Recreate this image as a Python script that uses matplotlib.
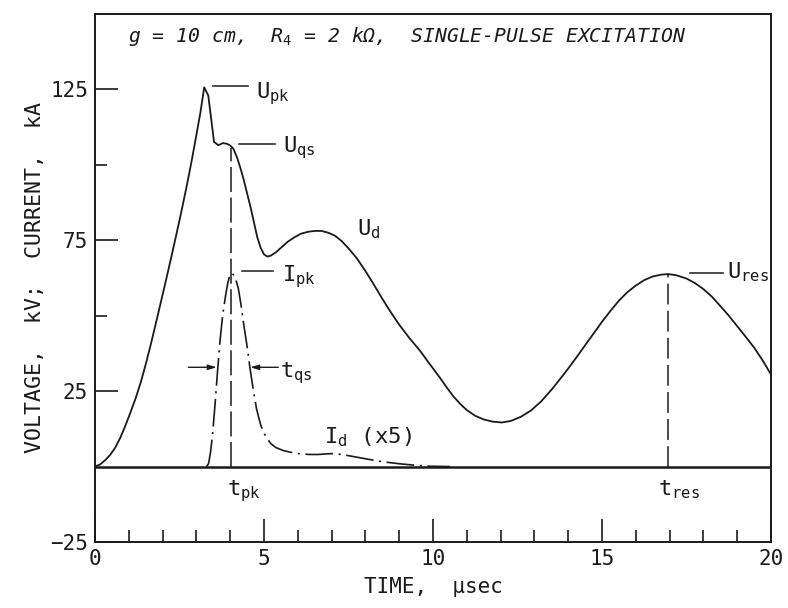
import matplotlib
matplotlib.use("Agg")
import matplotlib.pyplot as plt
from matplotlib.ticker import FixedLocator

plt.rcParams['font.family'] = ['DejaVu Sans Mono', 'DejaVu Sans']
plt.rcParams['mathtext.fontset'] = 'custom'
plt.rcParams['mathtext.rm'] = 'DejaVu Sans Mono'
plt.rcParams['mathtext.it'] = 'DejaVu Sans Mono:italic'
plt.rcParams['lines.scale_dashes'] = False

# 读图得到的数据
# 电压 U_d (kV)
t_u = [0, 0.15, 0.3, 0.45, 0.6, 0.75, 0.9, 1.05, 1.2, 1.35, 1.5, 1.65, 1.8,
       1.95, 2.1, 2.25, 2.4, 2.55, 2.7, 2.85, 3.0, 3.12, 3.23,
       3.35, 3.45, 3.52, 3.65, 3.78, 3.9, 4.0, 4.09, 4.2, 4.3, 4.4, 4.5, 4.6,
       4.7, 4.8, 4.9, 5.0, 5.1, 5.2, 5.35, 5.5, 5.7, 5.9, 6.1, 6.3, 6.5, 6.7,
       6.9, 7.1, 7.3, 7.5, 7.74, 8.0, 8.2, 8.5, 8.73, 9.0, 9.3, 9.62, 9.9,
       10.2, 10.4, 10.6, 10.8, 11.0, 11.25, 11.5, 11.75, 12.03, 12.3, 12.6,
       12.9, 13.2, 13.56, 13.8, 14.0, 14.25, 14.5, 14.75, 15.0, 15.25, 15.5,
       15.75, 16.0, 16.25, 16.5, 16.75, 16.96, 17.2, 17.5, 17.75, 18.0, 18.25,
       18.5, 18.75, 19.0, 19.25, 19.5, 19.75, 20.0]
u_d = [0, 0.7, 2.1, 3.9, 6.3, 9.6, 13.6, 18, 22.6, 27.8, 33.9, 40.5, 47.5,
       54.6, 61.8, 69.1, 76.6, 84.3, 92.3, 100.8, 110, 117.5, 125.7,
       123, 114, 107.6, 106.5, 107.2, 107, 106.4, 105.4, 102.5, 99, 95, 90.5, 86,
       81, 76, 72.5, 70.3, 69.6, 69.9, 71, 72.5, 74.5, 76, 77.2, 77.8, 78.1, 78.1,
       77.5, 76.5, 74.7, 72.3, 69.1, 64.8, 61.2, 55.6, 51.5, 47, 42.6, 38.3, 34,
       29.5, 26.3, 23.3, 20.8, 18.7, 16.8, 15.6, 14.9, 14.6, 15.1, 16.5,
       18.6, 21.6, 26.2, 29.6, 32.5, 36.3, 40.2, 44.1, 48, 51.6, 55,
       57.8, 60, 61.8, 63, 63.6, 63.8, 63.4, 62.3, 60.8, 58.8, 56.3,
       53.2, 50, 46.5, 43, 39.4, 35.2, 30.5]

# 电流 I_d (x5, kA)
t_i = [3.3, 3.36, 3.42, 3.48, 3.55, 3.62, 3.7, 3.78, 3.86, 3.93, 3.99, 4.04,
       4.1, 4.17, 4.24, 4.32, 4.4, 4.49, 4.58, 4.68, 4.78, 4.9, 5.0, 5.1, 5.2,
       5.35, 5.57, 5.8, 6.07, 6.35, 6.6, 6.85, 7.05, 7.3, 7.6, 8.04, 8.5, 9.02,
       9.5, 9.9, 10.5]
i_d = [0, 1, 5, 11, 20.5, 31, 42, 50.5, 56.5, 61, 63.5, 64.1,
       63.5, 61.8, 59, 53.5, 47, 40.5, 33, 25.5, 19, 13.8, 11, 9.2, 7.6,
       6.3, 5.3, 4.7, 4.2, 4.0, 4.0, 4.2, 4.3, 4.0, 3.4, 2.5, 1.6, 0.9,
       0.4, 0.1, 0]

t_pk, t_res = 4.03, 16.96
u_qs_top, u_res_top = 105.5, 63.8

fig = plt.figure(figsize=(7.88, 6.08), dpi=100)
ax = fig.add_axes([0.1206, 0.1086, 0.8579, 0.8684])

ax.plot(t_u, u_d, color='#1a1a1a', lw=1.3)
ax.plot(t_i, i_d, color='#1a1a1a', lw=1.2, linestyle=(0, (20, 4, 1.5, 4)))
ax.axhline(0, color='#1a1a1a', lw=1.8)

# 竖虚线
ax.plot([t_pk, t_pk], [0, u_qs_top], color='#1a1a1a', lw=1.1, linestyle=(0, (18, 4)))
ax.plot([t_res, t_res], [0, u_res_top], color='#1a1a1a', lw=1.1, linestyle=(0, (15, 4.5)))

ax.set_xlim(0, 20)
ax.set_ylim(-25, 150)
ax.xaxis.set_major_locator(FixedLocator([0, 5, 10, 15, 20]))
ax.xaxis.set_minor_locator(FixedLocator([i for i in range(1, 20) if i % 5]))
ax.yaxis.set_major_locator(FixedLocator([-25, 25, 75, 125]))
ax.yaxis.set_minor_locator(FixedLocator([50, 100]))
ax.tick_params(which='both', direction='in', top=False, right=False,
               color='#1a1a1a', width=1.2, labelsize=15, labelcolor='#1a1a1a')
ax.tick_params(which='major', length=16.5, pad=5)
ax.tick_params(which='minor', length=8.5)
for s in ax.spines.values():
    s.set_linewidth(1.4)
    s.set_color('#1a1a1a')

ax.set_xlabel('TIME,  μsec', fontsize=15, color='#1a1a1a', labelpad=6)
ax.set_ylabel('VOLTAGE,  kV;  CURRENT,  kA', fontsize=15.5, color='#1a1a1a', labelpad=4)

ax.text(0.98, 142.4, r'g = 10 cm,  R$_\mathit{4}$ = 2 kΩ,  SINGLE-PULSE EXCITATION',
        fontsize=14.2, style='italic', ha='left', va='center', color='#1a1a1a')

# 标注
lab = dict(fontsize=16, color='#1a1a1a', ha='left', va='baseline')
ax.plot([3.48, 4.53], [126.1, 126.1], color='#1a1a1a', lw=1.1)
ax.text(4.76, 122, r'U$_\mathrm{pk}$', **lab)
ax.plot([4.27, 5.33], [106.9, 106.9], color='#1a1a1a', lw=1.1)
ax.text(5.56, 104.2, r'U$_\mathrm{qs}$', **lab)
ax.plot([4.34, 5.27], [64.9, 64.9], color='#1a1a1a', lw=1.1)
ax.text(5.52, 61.2, r'I$_\mathrm{pk}$', **lab)
ax.text(7.74, 76.7, r'U$_\mathrm{d}$', **lab)
ax.plot([17.6, 18.59], [64.2, 64.2], color='#1a1a1a', lw=1.1)
ax.text(18.69, 62.5, r'U$_\mathrm{res}$', **lab)
ax.text(6.76, 7.8, r'I$_\mathrm{d}$ (x5)', **lab)
ax.text(5.47, 29.7, r't$_\mathrm{qs}$', **lab)
ax.text(3.9, -9.4, r't$_\mathrm{pk}$', **lab)
ax.text(16.66, -9.4, r't$_\mathrm{res}$', **lab)

arr = dict(arrowstyle='-|>,head_length=0.5,head_width=0.15', color='#1a1a1a', lw=1.0,
           shrinkA=0, shrinkB=0)
ax.annotate('', xy=(3.6, 32.9), xytext=(2.76, 32.9), arrowprops=arr)
ax.annotate('', xy=(4.59, 32.9), xytext=(5.42, 32.9), arrowprops=arr)

plt.savefig('out.png', dpi=100)
